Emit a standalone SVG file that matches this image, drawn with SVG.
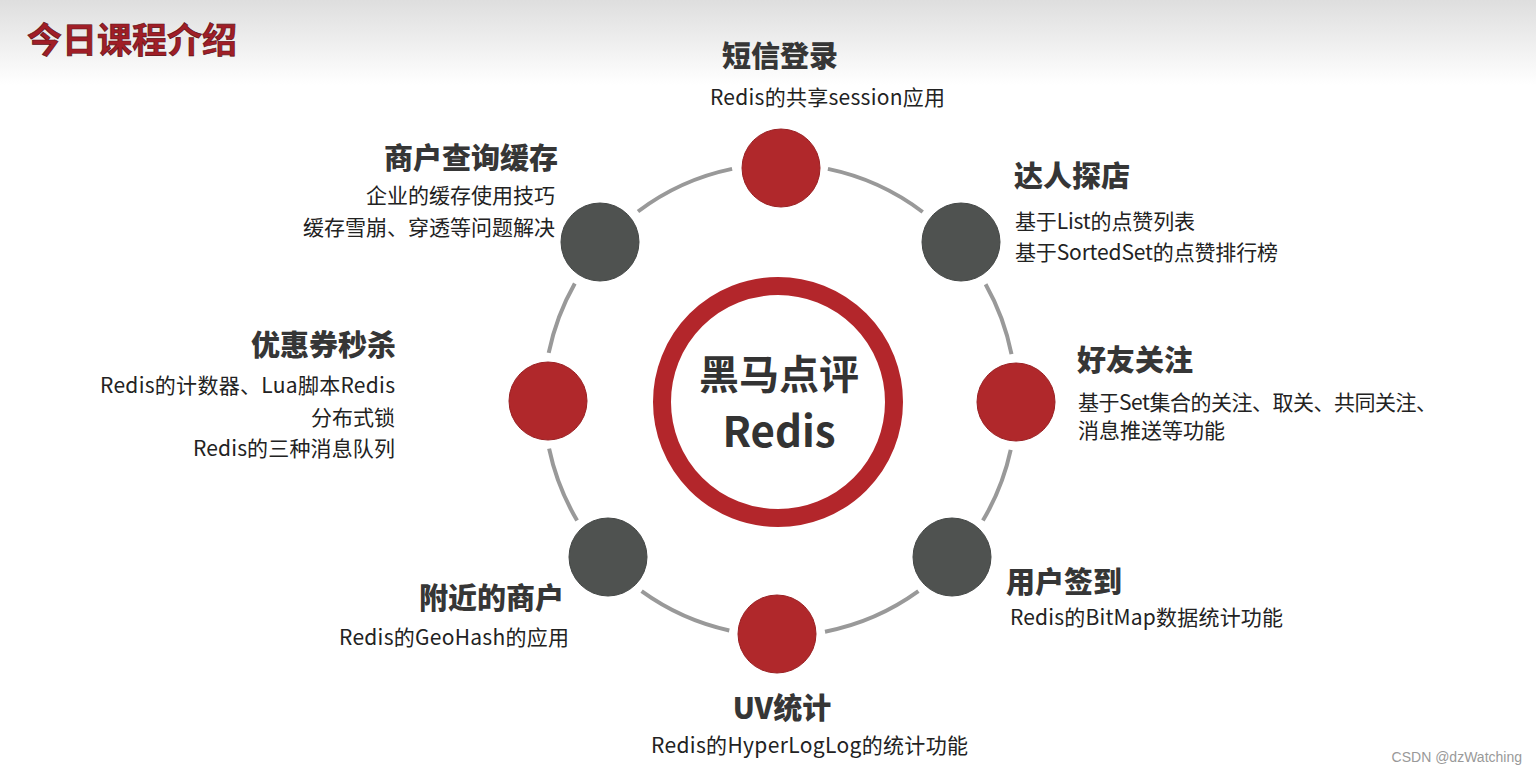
<svg xmlns="http://www.w3.org/2000/svg" width="1536" height="775" viewBox="0 0 1536 775">
<defs>
<linearGradient id="hdr" x1="0" y1="0" x2="0" y2="1">
<stop offset="0" stop-color="#dedede"/>
<stop offset="1" stop-color="#ffffff"/>
</linearGradient>
</defs>
<style>
.t{font-family:"Noto Sans CJK SC","Microsoft YaHei",sans-serif;font-weight:900;font-size:29px;fill:#363636}
.s{font-family:"Noto Sans CJK SC","Microsoft YaHei",sans-serif;font-size:21px;fill:#222}
.r{text-anchor:end}
.red{fill:#b0282b;stroke:#9a2023;stroke-width:1}
.gray{fill:#4f5250;stroke:#444746;stroke-width:1}
.arc{fill:none;stroke:#999;stroke-width:4}
</style>
<rect x="0" y="0" width="1536" height="775" fill="#fff"/>
<rect x="0" y="0" width="1536" height="85" fill="url(#hdr)"/>
<text x="27" y="53" font-family="Noto Sans CJK SC,sans-serif" font-weight="700" font-size="35" fill="#a01e27" stroke="#5e1016" stroke-width="0.7">今日课程介绍</text>

<g id="connectors">
<path class="arc" d="M827.9 168.9 A236 236 0 0 1 922.7 212.0"/>
<path class="arc" d="M985.6 284.2 A236 236 0 0 1 1011.5 354.2"/>
<path class="arc" d="M1010.7 449.9 A236 236 0 0 1 982.9 520.5"/>
<path class="arc" d="M918.4 591.2 A236 236 0 0 1 825.0 631.7"/>
<path class="arc" d="M729.3 630.5 A236 236 0 0 1 641.6 591.2"/>
<path class="arc" d="M577.1 520.5 A236 236 0 0 1 549.1 448.7"/>
<path class="arc" d="M548.7 352.9 A236 236 0 0 1 574.8 283.4"/>
<path class="arc" d="M638.0 211.5 A236 236 0 0 1 732.1 168.9"/>
</g>

<g id="center">
<circle cx="778" cy="402" r="116" fill="#fff" stroke="#b3262b" stroke-width="18"/>
<text x="779" y="389" text-anchor="middle" font-family="Noto Sans CJK SC,sans-serif" font-weight="700" font-size="40" fill="#333">黑马点评</text>
<text x="779" y="447" text-anchor="middle" font-family="Noto Sans CJK SC,sans-serif" font-weight="700" font-size="42" fill="#333">Redis</text>
</g>

<g id="node-sms">
<circle class="red" cx="781" cy="168" r="39"/>
<text class="t" x="780" y="67" text-anchor="middle">短信登录</text>
<text class="s" x="710" y="105" textLength="235">Redis的共享session应用</text>
</g>

<g id="node-explore">
<circle class="gray" cx="961" cy="242" r="39"/>
<text class="t" x="1014" y="187">达人探店</text>
<text class="s" x="1015" y="229" textLength="180">基于List的点赞列表</text>
<text class="s" x="1015" y="260" textLength="263">基于SortedSet的点赞排行榜</text>
</g>

<g id="node-follow">
<circle class="red" cx="1016" cy="402" r="39"/>
<text class="t" x="1077" y="371">好友关注</text>
<text class="s" x="1078" y="410" font-size="20" textLength="359">基于Set集合的关注、取关、共同关注、</text>
<text class="s" x="1078" y="438" font-size="20" textLength="147">消息推送等功能</text>
</g>

<g id="node-sign">
<circle class="gray" cx="952" cy="557" r="39"/>
<text class="t" x="1006" y="593">用户签到</text>
<text class="s" x="1010" y="625" textLength="273">Redis的BitMap数据统计功能</text>
</g>

<g id="node-uv">
<circle class="red" cx="777" cy="634" r="39"/>
<text class="t" x="782" y="719" text-anchor="middle">UV统计</text>
<text class="s" x="651" y="753" textLength="317">Redis的HyperLogLog的统计功能</text>
</g>

<g id="node-nearby">
<circle class="gray" cx="608" cy="557" r="39"/>
<text class="t r" x="564" y="609">附近的商户</text>
<text class="s" x="339" y="645" textLength="230">Redis的GeoHash的应用</text>
</g>

<g id="node-seckill">
<circle class="red" cx="548" cy="401" r="39"/>
<text class="t r" x="396" y="356">优惠券秒杀</text>
<text class="s" x="100" y="393" textLength="295">Redis的计数器、Lua脚本Redis</text>
<text class="s r" x="395" y="425">分布式锁</text>
<text class="s" x="193" y="456" textLength="202">Redis的三种消息队列</text>
</g>

<g id="node-cache">
<circle class="gray" cx="600" cy="242" r="39"/>
<text class="t r" x="558" y="169">商户查询缓存</text>
<text class="s r" x="555" y="203">企业的缓存使用技巧</text>
<text class="s r" x="555" y="235">缓存雪崩、穿透等问题解决</text>
</g>

<text x="1522" y="762" text-anchor="end" font-family="Liberation Sans,sans-serif" font-size="14" fill="#999">CSDN @dzWatching</text>
</svg>
